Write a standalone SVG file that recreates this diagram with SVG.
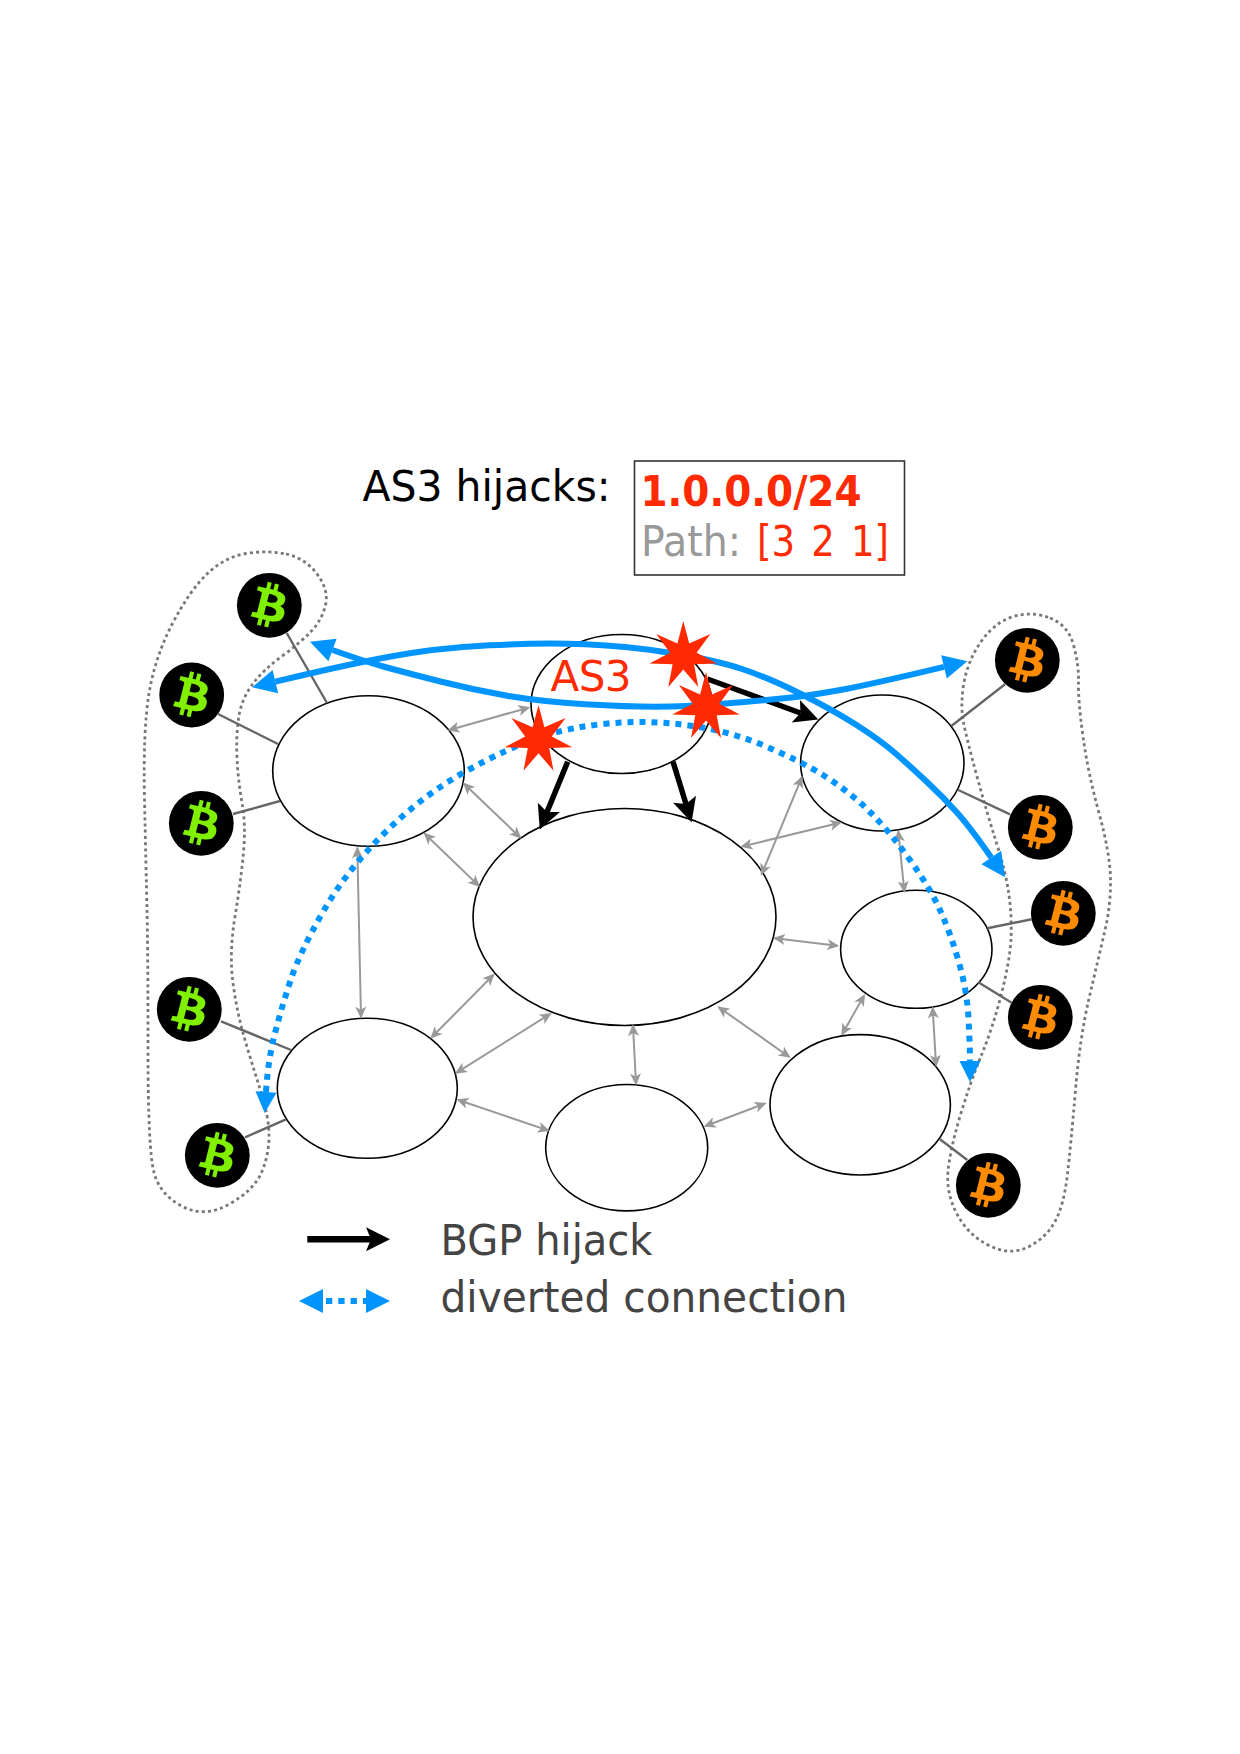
<svg xmlns="http://www.w3.org/2000/svg" width="1240" height="1754" viewBox="0 0 1240 1754">
<style>
.as{fill:#fff;stroke:#000;stroke-width:1.6}
.blob{fill:none;stroke:#777;stroke-width:2.8;stroke-dasharray:3 3.2}
.link{stroke:#666;stroke-width:2.4;fill:none}
.peer{stroke:#999;stroke-width:2;fill:none;marker-start:url(#gs);marker-end:url(#g)}
.hij{stroke:#000;stroke-width:5.5;fill:none;marker-end:url(#k)}
.div{stroke:#0094ff;stroke-width:6;fill:none;marker-start:url(#bs);marker-end:url(#b)}
.dot{stroke-dasharray:6 6;marker-start:url(#ds);marker-end:url(#d)}
.t{font-family:"DejaVu Sans","Liberation Sans",sans-serif;font-size:42px}
.green{fill:#80f000}.orange{fill:#ff8c00}
.star{fill:#ff2a00}
</style>
<defs>
<marker id="g" markerUnits="userSpaceOnUse" markerWidth="14" markerHeight="14" viewBox="0 0 14 14" refX="11" refY="7" orient="auto"><path d="M13 7 1 1.5 4 7 1 12.5z" fill="#999"/></marker>
<marker id="gs" markerUnits="userSpaceOnUse" markerWidth="14" markerHeight="14" viewBox="0 0 14 14" refX="11" refY="7" orient="auto-start-reverse"><path d="M13 7 1 1.5 4 7 1 12.5z" fill="#999"/></marker>
<marker id="k" markerUnits="userSpaceOnUse" markerWidth="26" markerHeight="26" viewBox="0 0 26 26" refX="6" refY="13" orient="auto"><path d="M25 13 1 1 6 13 1 25z" fill="#000"/></marker>
<marker id="b" markerUnits="userSpaceOnUse" markerWidth="26" markerHeight="26" viewBox="0 0 26 26" refX="1" refY="13" orient="auto"><path d="M25 13 1 1V25z" fill="#0094ff"/></marker>
<marker id="bs" markerUnits="userSpaceOnUse" markerWidth="26" markerHeight="26" viewBox="0 0 26 26" refX="1" refY="13" orient="auto-start-reverse"><path d="M25 13 1 1V25z" fill="#0094ff"/></marker>
<marker id="d" markerUnits="userSpaceOnUse" markerWidth="24" markerHeight="24" viewBox="0 0 24 24" refX="1" refY="12" orient="auto"><path d="M22 12 1 1.5V22.500z" fill="#0094ff"/></marker>
<marker id="ds" markerUnits="userSpaceOnUse" markerWidth="24" markerHeight="24" viewBox="0 0 24 24" refX="1" refY="12" orient="auto-start-reverse"><path d="M22 12 1 1.5V22.500z" fill="#0094ff"/></marker>
<g id="btc" transform="scale(2.7) translate(-12 -12)">
<circle cx="12" cy="12" r="12" fill="#000"/>
<path transform="translate(12 12) scale(1.12) translate(-12 -12)" fill-rule="evenodd" d="M17.288 10.291c.24-1.59-.974-2.45-2.64-3.03l.54-2.153-1.315-.33-.525 2.107c-.345-.087-.705-.167-1.064-.25l.526-2.127-1.32-.33-.54 2.165c-.285-.067-.565-.132-.84-.2l-1.815-.45-.35 1.407s.975.225.955.236c.535.136.63.486.615.766l-1.477 5.92c-.075.166-.24.406-.614.314.015.02-.96-.24-.96-.24l-.66 1.51 1.71.426.93.242-.54 2.19 1.32.327.54-2.17c.36.1.705.19 1.05.273l-.51 2.154 1.32.33.545-2.19c2.24.427 3.93.257 4.64-1.774.57-1.637-.03-2.58-1.217-3.196.854-.193 1.5-.76 1.68-1.93h.01zm-3.01 4.22c-.404 1.64-3.157.75-4.05.53l.72-2.9c.896.23 3.757.67 3.33 2.37zm.41-4.24c-.37 1.49-2.662.735-3.405.55l.654-2.64c.744.18 3.137.524 2.75 2.084v.006z"/>
</g>
<polygon id="st" points="0,-34.6 5.9,-12.3 27.1,-21.6 13.3,-3 33.8,7.7 10.7,8.500 15,31.200 0,13.700 -15,31.200 -10.7,8.500 -33.8,7.7 -13.3,-3 -27.1,-21.6 -5.9,-12.3"/>
</defs>

<g id="regions">
<path class="blob" d="M286 554 Q305 558 317 574 Q329 590 325.5 605 Q322 620 311 631.5 Q300 643 281.5 656.5 Q263 670 252 685 Q241 700 238.5 718.5 Q236 737 237 758.5 Q238 780 242 802.5 Q246 825 243.5 852.5 Q241 880 235 916.5 Q229 953 233 983 Q237 1013 245 1040 Q253 1067 261 1092 Q269 1117 269 1136 Q269 1155 261.5 1172.500 Q254 1190 229.500 1204 Q205 1218 182.5 1206.500 Q160 1195 154 1172.5 Q148 1150 148 1051.5 Q148 953 147 910 Q146 867 144.5 798.5 Q143 730 149 693.5 Q155 657 172.5 623.5 Q190 590 207.5 573.5 Q225 557 246 553.5 Q267 550 286 554Z"/>
<path class="blob" d="M1050 618 Q1068 625 1073.5 645 Q1079 665 1078.5 682.5 Q1078 700 1083 736.5 Q1088 773 1099 813 Q1110 853 1110.5 879 Q1111 905 1104.5 932.5 Q1098 960 1089 998.5 Q1080 1037 1075.5 1090 Q1071 1143 1067.5 1174 Q1064 1205 1055 1221.5 Q1046 1238 1028 1247 Q1010 1256 989 1245.5 Q968 1235 957 1214 Q946 1193 948 1171.5 Q950 1150 960 1116.5 Q970 1083 981.5 1055 Q993 1027 1001.5 993.5 Q1010 960 1011 938.5 Q1012 917 1009 895 Q1006 873 996.5 843 Q987 813 977 776.5 Q967 740 963.5 722.5 Q960 705 964 682.5 Q968 660 981.5 641 Q995 622 1013.5 616.5 Q1032 611 1050 618Z"/>
</g>

<g id="as-nodes">
<g id="as3"><ellipse class="as" cx="621.5" cy="704" rx="90.5" ry="69.5"/></g>
<g id="as-tl"><ellipse class="as" cx="368.5" cy="771" rx="95.8" ry="75.2"/></g>
<g id="as-center"><ellipse class="as" cx="624.5" cy="917" rx="151.5" ry="108.5"/></g>
<g id="as-tr"><ellipse class="as" cx="882.3" cy="763" rx="81.7" ry="68"/></g>
<g id="as-mr"><ellipse class="as" cx="916.3" cy="949.3" rx="75.7" ry="59"/></g>
<g id="as-br"><ellipse class="as" cx="860.2" cy="1104.8" rx="90.2" ry="70.2"/></g>
<g id="as-bm"><ellipse class="as" cx="626.7" cy="1147.7" rx="81" ry="63.2"/></g>
<g id="as-bl"><ellipse class="as" cx="367.3" cy="1088.3" rx="90" ry="70"/></g>
</g>

<g id="btc-nodes">
<g id="g1" transform="translate(269.3 605.3)"><use href="#btc" class="green"/></g>
<g id="g2" transform="translate(191.7 695)"><use href="#btc" class="green"/></g>
<g id="g3" transform="translate(201.3 823.3)"><use href="#btc" class="green"/></g>
<g id="g4" transform="translate(189.3 1009.3)"><use href="#btc" class="green"/></g>
<g id="g5" transform="translate(217.3 1155.3)"><use href="#btc" class="green"/></g>
<g id="o1" transform="translate(1027.3 660.3)"><use href="#btc" class="orange"/></g>
<g id="o2" transform="translate(1040.3 827.3)"><use href="#btc" class="orange"/></g>
<g id="o3" transform="translate(1063.3 913.3)"><use href="#btc" class="orange"/></g>
<g id="o4" transform="translate(1040.3 1017.3)"><use href="#btc" class="orange"/></g>
<g id="o5" transform="translate(988.3 1185.3)"><use href="#btc" class="orange"/></g>
</g>

<g id="connectors">
<path class="link" d="M286.7 633 327 703M218 714 278 744M233 814 280 801M221 1021.3 291 1050M245 1137.3 286 1119.3M1005 684.3 951.7 725.7M1010 814.3 958.3 790M1031.7 919.3 987.3 928.3M1011.7 1002.7 978.3 982.3M967.3 1160 940 1139.3"/>
<path class="peer" d="M449.3 730 528.3 707.7"/>
<path class="peer" d="M464.3 784 520 837.3"/>
<path class="peer" d="M425 834 478.6 885.6"/>
<path class="peer" d="M357.3 848.3 361 1016.7"/>
<path class="peer" d="M431.7 1037.3 493.3 975"/>
<path class="peer" d="M456.7 1072.7 550 1014"/>
<path class="peer" d="M458.3 1100 547.9 1130.4"/>
<path class="peer" d="M633 1026 636 1083.5"/>
<path class="peer" d="M705.5 1126 764.8 1103.6"/>
<path class="peer" d="M719 1007.4 789 1056.7"/>
<path class="peer" d="M842.3 1034 864 995.7"/>
<path class="peer" d="M936 1065 932.7 1008.3"/>
<path class="peer" d="M775 938.3 837.3 945.7"/>
<path class="peer" d="M898.3 831.7 904.3 891"/>
<path class="peer" d="M761.7 874 801.7 777.7"/>
<path class="peer" d="M742.4 846.4 840 822.7"/>
<path class="hij" d="M567.7 761.7 547 812"/>
<path class="hij" d="M673 761.7 686 804"/>
<path class="hij" d="M707.4 679 800.5 713"/>
<path class="div" d="M275.400 681.700 Q340 666 388 657 Q436 648 489.5 645.3 Q543 642.5 585 644.3 Q627 646 671 653 Q715 660 742 669 Q769 678 801 694 Q833 710 856.5 725 Q880 740 895 753 Q910 766 926.5 781.5 Q943 797 956.5 812 Q970 827 991.300 857.500"/>
<path class="div" d="M332.5 650 Q363 661 385 667 Q407 673 440.5 681.5 Q474 690 508.5 696 Q543 701.7 585 704.2 Q627 706.7 655.5 706.7 Q684 706.7 722.5 703.7 Q761 700.7 784 698.3 Q807 696 837.5 690.5 Q868 685 944 666.800"/>
<path class="div dot" d="M266 1092 Q268 1060 275 1033 Q282 1006 291 979 Q300 952 323.5 911 Q347 870 385 832.5 Q423 795 465.5 771.5 Q508 748 539 737.5 Q570 727 608 723.5 Q646 720 686 725 Q726 730 762.5 745 Q799 760 824.5 776 Q850 792 870 812 Q890 832 910 860 Q930 888 940 910 Q950 932 958.5 961 Q967 990 968.5 1018.5 Q970 1047 970 1061"/>
</g>

<g id="stars">
<use href="#st" class="star" x="683.3" y="655.7"/>
<use href="#st" class="star" x="706" y="706.7"/>
<use href="#st" class="star" x="538.5" y="739.5"/>
</g>

<g id="title">
<text class="t" x="362.6" y="501" fill="#000" textLength="248" lengthAdjust="spacingAndGlyphs">AS3 hijacks:</text>
<rect x="634.500" y="461" width="270" height="114" fill="none" stroke="#333" stroke-width="1.6"/>
<text class="t" x="640.500" y="505.500" fill="#ff2a00" font-weight="bold" textLength="221" lengthAdjust="spacingAndGlyphs">1.0.0.0/24</text>
<text class="t" x="641" y="555.7" fill="#999" textLength="100" lengthAdjust="spacingAndGlyphs">Path:</text>
<text class="t" x="757" y="555.7" fill="#ff2a00" word-spacing="5" textLength="132" lengthAdjust="spacingAndGlyphs">[3 2 1]</text>
<text id="as3-label" class="t" x="550.5" y="691" fill="#ff2a00" textLength="81" lengthAdjust="spacing">AS3</text>
</g>

<g id="legend">
<path class="hij" d="M307.3 1239.3H371" style="stroke-width:6.5"/>
<path class="div" d="M323 1301H366" style="stroke-dasharray:6.3 6;stroke-dashoffset:9.3"/>
<text class="t" x="440.5" y="1255" fill="#444" textLength="212" lengthAdjust="spacingAndGlyphs">BGP hijack</text>
<text class="t" x="440.5" y="1311.7" fill="#444" textLength="407" lengthAdjust="spacingAndGlyphs">diverted connection</text>
</g>
</svg>
